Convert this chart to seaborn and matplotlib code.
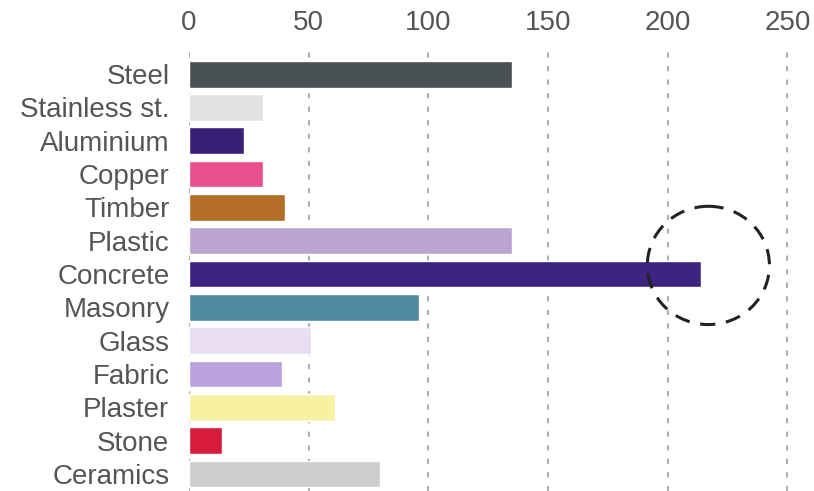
import matplotlib
matplotlib.use('Agg')
import matplotlib.pyplot as plt
from matplotlib.patches import Ellipse
import pandas as pd
import seaborn as sns

materials = ['Steel', 'Stainless st.', 'Aluminium', 'Copper', 'Timber', 'Plastic',
             'Concrete', 'Masonry', 'Glass', 'Fabric', 'Plaster', 'Stone', 'Ceramics']
values = [135, 31, 23, 31, 40, 135, 214, 96, 51, 39, 61, 14, 80]
colors = ['#4a5154', '#e2e2e2', '#3a1f78', '#e84f8c', '#b66f28', '#baa5d2',
          '#3e2380', '#4f8c9f', '#e9def1', '#b9a2dd', '#f8f1a2', '#d71c3b', '#cdcdcd']
xticks = [0, 50, 100, 150, 200, 250]

df = pd.DataFrame({'material': materials, 'value': values})

sns.set_style('white')
plt.rcParams['font.family'] = ['Liberation Sans', 'DejaVu Sans']

fig = plt.figure(figsize=(8.14, 4.91), dpi=100)
ax = fig.add_axes([0.232, 0.0, 0.75, 0.91])

sns.barplot(data=df, y='material', x='value', hue='material',
            palette=dict(zip(materials, colors)), orient='h', width=0.8,
            legend=False, saturation=1, ax=ax, zorder=2)

ax.set_xlim(0, 255)
ax.set_ylim(12.51, -0.9)
ax.set_xticks(xticks)
ax.xaxis.tick_top()
ax.tick_params(axis='x', length=0, pad=6, labelsize=20, labelcolor='#555555')
ax.tick_params(axis='y', length=0, pad=14, labelsize=20, labelcolor='#555555')
ax.set_xlabel('')
ax.set_ylabel('')
for s in ax.spines.values():
    s.set_visible(False)
ax.grid(axis='x', color='#b0b0b0', linestyle=(0, (2.5, 4)), linewidth=1.5, zorder=0)
ax.set_axisbelow(True)

# dashed circle highlighting concrete
ax.add_patch(Ellipse((217, 5.74), 51, 3.55, fill=False, edgecolor='#222222',
                     linestyle=(0, (5, 3.5)), linewidth=2.2, zorder=3))

fig.savefig('out.png', dpi=100)
